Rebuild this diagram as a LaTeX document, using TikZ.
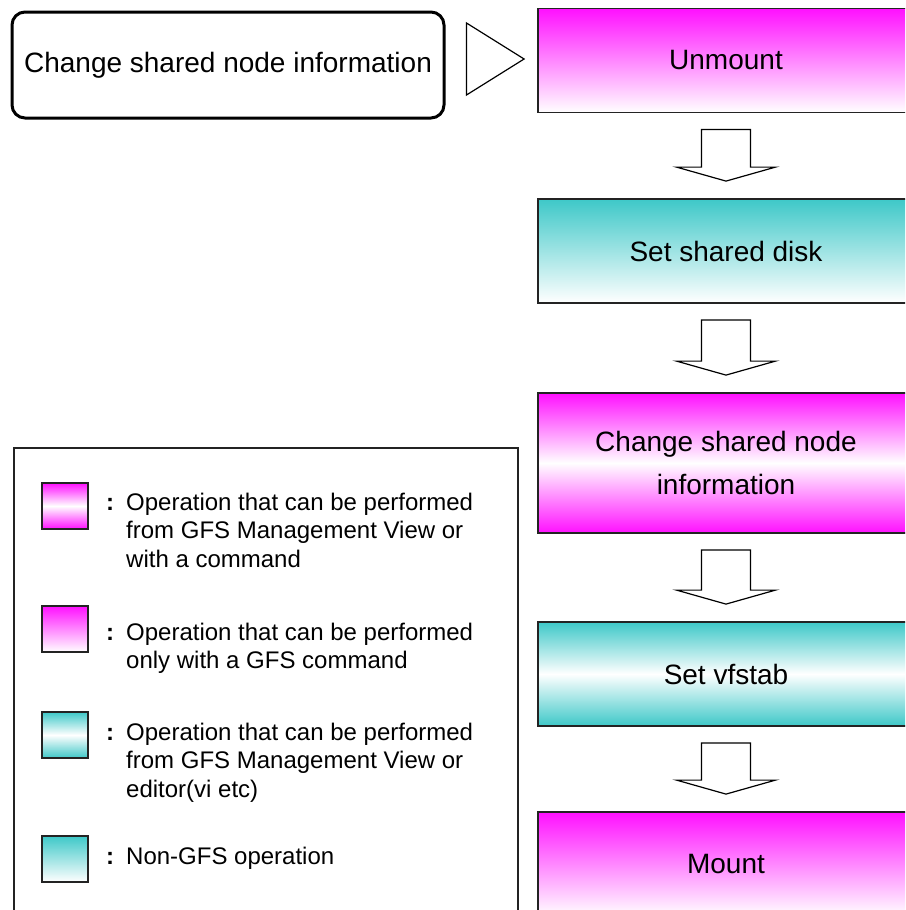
\documentclass[tikz,border=0pt]{standalone}
\usepackage{fontspec}
\setmainfont{Liberation Sans}
\usetikzlibrary{calc}
\definecolor{mg}{RGB}{255,16,255}
\definecolor{tl}{RGB}{62,200,200}
\definecolor{bd}{RGB}{35,35,35}
\newcommand\blockarr[2]{%
  \draw[barrow] ($(#1.south)+(-24.5,16)$) -- ($(#1.south)+(24.5,16)$)
    -- ($(#2.north)+(24.5,-31)$) -- ($(#2.north)+(49.5,-31)$)
    -- ($(#2.north)+(0,-17)$) -- ($(#2.north)+(-49.5,-31)$)
    -- ($(#2.north)+(-24.5,-31)$) -- cycle;}
\begin{document}
\begin{tikzpicture}[x=1pt,y=-1pt,
  pinkdown/.style={top color=mg,bottom color=white},
  pinkmid/.style={top color=mg,bottom color=mg,middle color=white},
  tealdown/.style={top color=tl,bottom color=white},
  tealmid/.style={top color=tl,bottom color=tl,middle color=white},
  opbox/.style={draw=bd,line width=1.8pt,minimum width=376pt,minimum height=104pt,
    inner sep=0pt,align=center,font=\fontsize{28}{43}\selectfont},
  roundbox/.style={draw=black,line width=3pt,rounded corners=13pt,fill=white,
    minimum width=432pt,minimum height=106pt,inner sep=0pt,font=\fontsize{28}{34}\selectfont},
  tri/.style={draw=black,line width=1.2pt,fill=white,line join=miter},
  barrow/.style={draw=black,line width=1.2pt,fill=white,line join=miter},
  swatch/.style={draw=bd,line width=1.6pt,minimum size=46pt,inner sep=0pt},
  colon/.style={anchor=base,inner sep=0pt,font=\fontsize{24}{28}\selectfont\bfseries},
  legtext/.style={anchor=north west,inner sep=0pt,align=left,font=\fontsize{24}{28.5}\selectfont},
  legframe/.style={draw=bd,line width=1.6pt,fill=white}
]
\clip (0,0) rectangle (905,910);
\fill[white] (0,0) rectangle (905,910);

% main flow
\node[roundbox] (start) at (228,65) {Change shared node information};
\node[opbox,pinkdown] (unmount) at (726,60.5) {Unmount};
\node[opbox,tealdown] (disk) at (726,251) {Set shared disk};
\node[opbox,pinkmid,minimum height=140pt] (csni) at (726,463) {Change shared node\\information};
\node[opbox,tealmid] (vfstab) at (726,674) {Set vfstab};
\node[opbox,pinkdown] (mount) at (726,864) {Mount};

\draw[tri] ($(start.east)+(21,-42)$) -- ($(unmount.west)+(-13,-1.5)$) -- ($(start.east)+(21,30)$) -- cycle;

\blockarr{unmount}{disk}
\blockarr{disk}{csni}
\blockarr{csni}{vfstab}
\blockarr{vfstab}{mount}

% legend
\node[legframe,anchor=north west,minimum width=504pt,minimum height=480pt,inner sep=0pt] (legend) at (13,447) {};

\node[swatch,pinkmid] (sw1) at (65,506) {};
\node[colon] (c1) at (110,510) {:};
\node[legtext] (t1) at (126,492.5) {Operation that can be performed\\from GFS Management View or\\with a command};

\node[swatch,pinkdown] (sw2) at (65,629) {};
\node[colon] (c2) at (110,640) {:};
\node[legtext] (t2) at (126,622.5) {Operation that can be performed\\only with a GFS command};

\node[swatch,tealmid] (sw3) at (65,735) {};
\node[colon] (c3) at (110,740) {:};
\node[legtext] (t3) at (126,722.5) {Operation that can be performed\\from GFS Management View or\\editor(vi etc)};

\node[swatch,tealdown] (sw4) at (65,859) {};
\node[colon] (c4) at (110,864) {:};
\node[legtext] (t4) at (126,847) {Non-GFS operation};
\end{tikzpicture}
\end{document}
